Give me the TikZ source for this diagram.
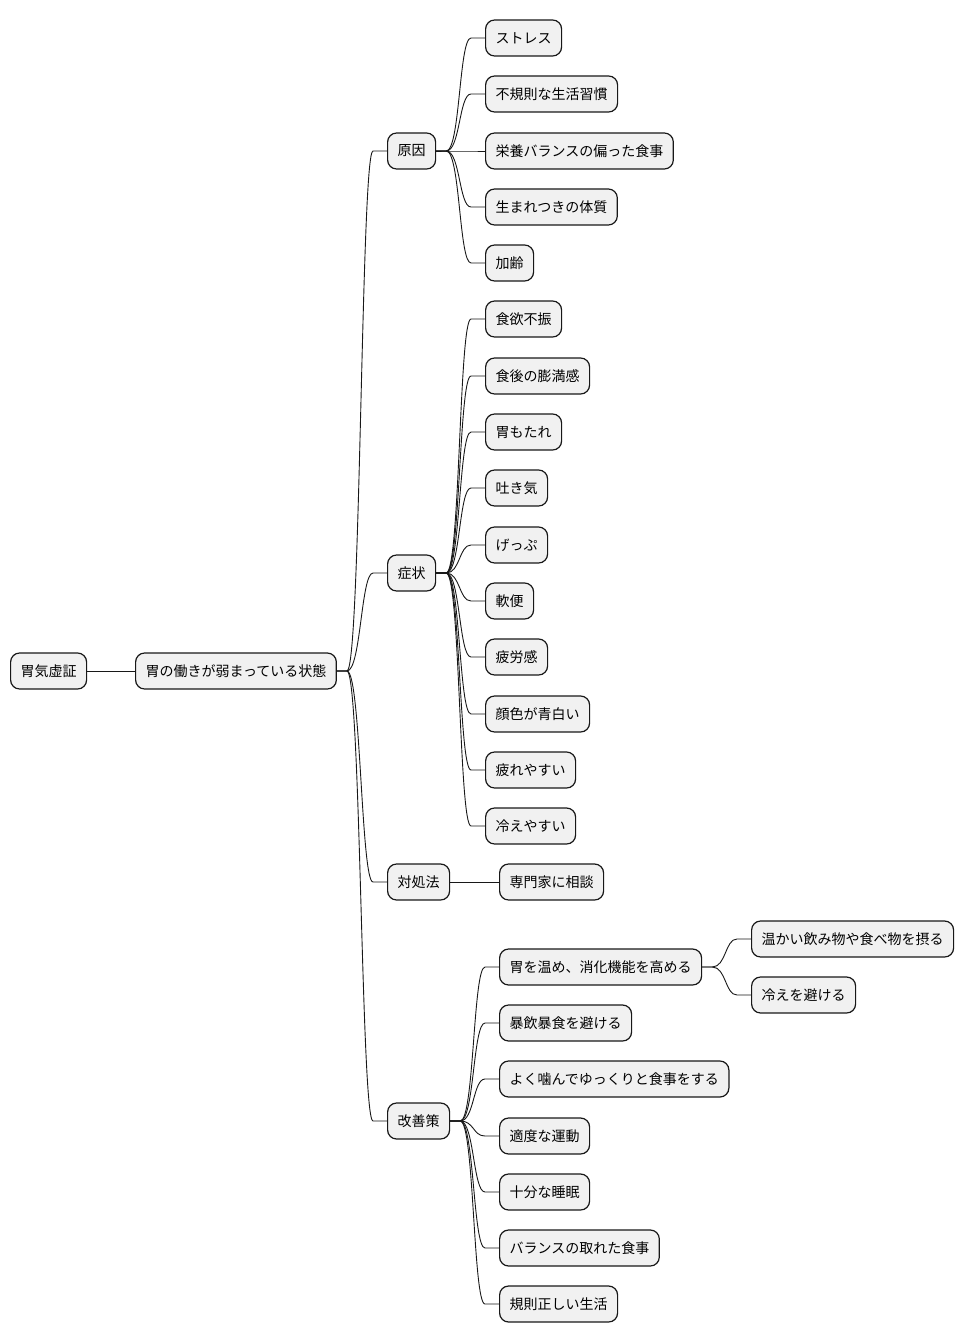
\documentclass[tikz,border=0pt]{standalone}
\usepackage{fontspec}
\setmainfont{Noto Sans CJK JP}
\usetikzlibrary{calc}
\definecolor{boxfill}{HTML}{F1F1F1}
\definecolor{linecol}{HTML}{181818}
\tikzset{
  mm/.style={draw=linecol, line width=1.2pt, fill=boxfill, rounded corners=9pt,
    minimum height=36pt, inner xsep=10pt, inner ysep=0pt, anchor=west,
    font=\fontsize{14pt}{16pt}\selectfont, text=black},
  conn/.style={draw=linecol, line width=0.9pt}
}
\newcommand\mmconn[2]{\draw[conn] (#1.east) -- ++(10,0) .. controls +(14,0) and +(-12,0) .. ($(#2.west)+(-14,0)$) -- (#2.west);}
\begin{document}
\begin{tikzpicture}[x=1pt,y=-1pt]
\useasboundingbox (0,0) rectangle (964,1343);
\node[mm] (root) at (10,671) {胃気虚証};
\node[mm] (s) at (135,671) {胃の働きが弱まっている状態};
\draw[conn] (root.east) -- (s.west);

\node[mm] (g) at (387,151) {原因};
\node[mm] (z) at (387,573) {症状};
\node[mm] (t) at (387,882) {対処法};
\node[mm] (k) at (387,1121) {改善策};
\foreach \n in {g,z,t,k} {\mmconn{s}{\n}}

\node[mm] (g1) at (485,38) {ストレス};
\node[mm] (g2) at (485,94) {不規則な生活習慣};
\node[mm] (g3) at (485,151) {栄養バランスの偏った食事};
\node[mm] (g4) at (485,207) {生まれつきの体質};
\node[mm] (g5) at (485,263) {加齢};
\foreach \n in {g1,g2,g3,g4,g5} {\mmconn{g}{\n}}

\node[mm] (z1) at (485,319) {食欲不振};
\node[mm] (z2) at (485,376) {食後の膨満感};
\node[mm] (z3) at (485,432) {胃もたれ};
\node[mm] (z4) at (485,488) {吐き気};
\node[mm] (z5) at (485,545) {げっぷ};
\node[mm] (z6) at (485,601) {軟便};
\node[mm] (z7) at (485,657) {疲労感};
\node[mm] (z8) at (485,714) {顔色が青白い};
\node[mm] (z9) at (485,770) {疲れやすい};
\node[mm] (z10) at (485,826) {冷えやすい};
\foreach \n in {z1,z2,z3,z4,z5,z6,z7,z8,z9,z10} {\mmconn{z}{\n}}

\node[mm] (t1) at (499,882) {専門家に相談};
\mmconn{t}{t1}

\node[mm] (k1) at (499,967) {胃を温め、消化機能を高める};
\node[mm] (k2) at (499,1023) {暴飲暴食を避ける};
\node[mm] (k3) at (499,1079) {よく噛んでゆっくりと食事をする};
\node[mm] (k4) at (499,1136) {適度な運動};
\node[mm] (k5) at (499,1192) {十分な睡眠};
\node[mm] (k6) at (499,1248) {バランスの取れた食事};
\node[mm] (k7) at (499,1304) {規則正しい生活};
\foreach \n in {k1,k2,k3,k4,k5,k6,k7} {\mmconn{k}{\n}}

\node[mm] (k11) at (751,939) {温かい飲み物や食べ物を摂る};
\node[mm] (k12) at (751,995) {冷えを避ける};
\mmconn{k1}{k11}
\mmconn{k1}{k12}
\end{tikzpicture}
\end{document}
